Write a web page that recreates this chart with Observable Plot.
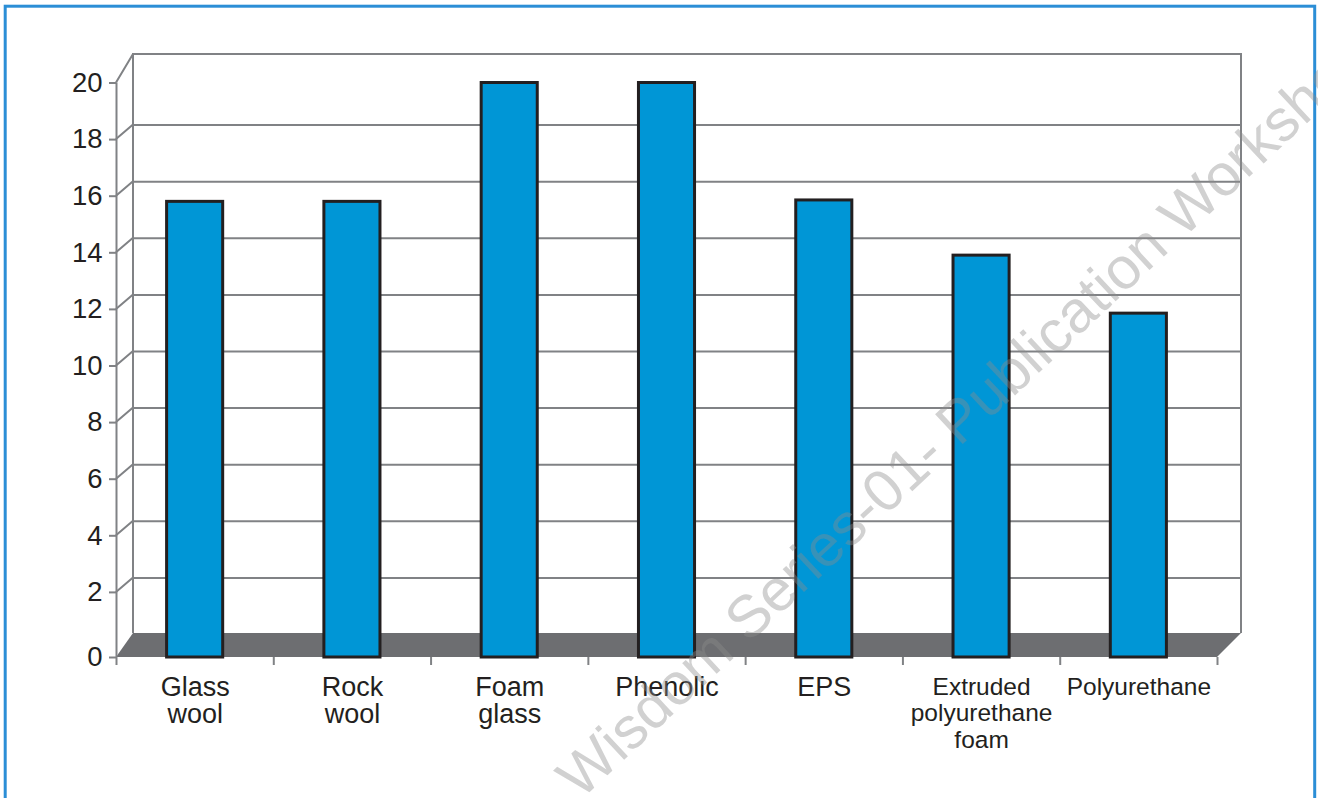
<!DOCTYPE html>
<html>
<head>
<meta charset="utf-8">
<script src="https://cdn.jsdelivr.net/npm/d3@7"></script>
<script src="https://cdn.jsdelivr.net/npm/@observablehq/plot@0.6"></script>
<style>
  body { margin: 0; background: #ffffff; }
  #chart svg { display: block; }
</style>
</head>
<body>
<div id="chart"></div>
<script>
// ---- data ----
const categories = ["Glass\nwool", "Rock\nwool", "Foam\nglass", "Phenolic", "EPS", "Extruded\npolyurethane\nfoam", "Polyurethane"];
const values = [15.8, 15.8, 20, 20, 15.85, 13.9, 11.85];
const yTicks = [0, 2, 4, 6, 8, 10, 12, 14, 16, 18, 20];
const smallLabels = ["Extruded\npolyurethane\nfoam", "Polyurethane"];
const watermark = "Wisdom Series-01- Publication Workshop";

// ---- derived ----
const data = categories.map((c, i) => ({i, category: c, value: values[i]}));
const gridVals = yTicks.filter(v => v > 0 && v < 20);
const boundaries = d3.range(categories.length + 1);
const n = categories.length;

// ---- style ----
const INK = "#231f20", GRID = "#808285", FLOOR = "#6d6e71", BLUE = "#0096d6", BORDER = "#2b8ed6";
const FONT = "'Liberation Sans', Arial, Helvetica, sans-serif";
const DEPTH_L = 17, DEPTH_R = 24, FLOOR_DY = 24, GRID_DY = 14.5, TOP_DY = 28.5;

// 3D box: floor, back wall edges, depth connectors (drawn from the plot's scales)
function depthBox(index, scales) {
  const x = scales.x, y = scales.y;
  const xl = x(0), xr = x(n), y0 = y(0), yt = y(20);
  const bl = xl + DEPTH_L, br = xr + DEPTH_R, by = y0 - FLOOR_DY, ty = yt - TOP_DY;
  const g = d3.create("svg:g");
  g.append("path")
    .attr("d", `M${xl},${y0}L${bl},${by}L${br},${by}L${xr},${y0}Z`)
    .attr("fill", FLOOR);
  g.append("path")
    .attr("d", `M${bl},${by}V${ty}H${br}V${by}`)
    .attr("fill", "none").attr("stroke", GRID).attr("stroke-width", 2);
  const diag = gridVals.map(v => `M${xl},${y(v)}L${bl},${y(v) - GRID_DY}`).join("") + `M${xl},${yt}L${bl},${ty}`;
  g.append("path")
    .attr("d", diag)
    .attr("fill", "none").attr("stroke", GRID).attr("stroke-width", 2);
  return g.node();
}

const chart = Plot.plot({
  width: 1318,
  height: 798,
  margin: 0,
  x: {type: "linear", domain: [0, n], range: [116, 1217], axis: null},
  y: {type: "linear", domain: [0, 2, 20], range: [657, 591.9, 82.5], axis: null},
  style: {fontFamily: FONT, background: "#ffffff", color: INK},
  marks: [
    Plot.frame({stroke: BORDER, strokeWidth: 3, insetLeft: 4.7, insetTop: 5.7, insetRight: 3.8, insetBottom: -20}),
    depthBox,
    // back-wall gridlines
    Plot.ruleY(gridVals, {y: d => d, x1: () => 0, x2: () => n, dy: -GRID_DY, insetLeft: DEPTH_L, insetRight: -DEPTH_R, stroke: GRID, strokeWidth: 2}),
    // front value axis
    Plot.ruleX([0], {x: d => d, y1: () => 0, y2: () => 20, stroke: GRID, strokeWidth: 2}),
    Plot.ruleY(yTicks, {y: d => d, x1: () => 0, x2: () => 0, insetLeft: -7, stroke: GRID, strokeWidth: 2}),
    Plot.text(yTicks, {x: () => 0, y: d => d, text: d => String(d), textAnchor: "end", dx: -14, fontSize: 27.5, fill: INK}),
    // category boundary ticks
    Plot.ruleX(boundaries, {x: d => d, y1: () => 0, y2: () => 0, insetBottom: -8, stroke: GRID, strokeWidth: 2}),
    // bars
    Plot.rectY(data, {x1: d => d.i, x2: d => d.i + 1, y1: () => 0, y2: d => d.value, insetLeft: 50.6, insetRight: 50.6, fill: BLUE, stroke: INK, strokeWidth: 3}),
    // category labels
    Plot.text(data.filter(d => !smallLabels.includes(d.category)), {x: d => d.i + 0.5, y: () => 0, text: d => d.category, lineAnchor: "top", dy: 19, fontSize: 27, lineHeight: 1.0, fill: INK}),
    Plot.text(data.filter(d => smallLabels.includes(d.category)), {x: d => d.i + 0.5, y: () => 0, text: d => d.category, lineAnchor: "top", dy: 18.5, fontSize: 24.5, lineHeight: 1.08, fill: INK}),
    // watermark
    Plot.text([watermark], {frameAnchor: "bottom-left", text: d => d, textAnchor: "start", dx: 580, dy: 2, rotate: -43, fontSize: 59, fill: "#8c8c8c", fillOpacity: 0.4})
  ]
});
document.getElementById("chart").appendChild(chart);
</script>
</body>
</html>
